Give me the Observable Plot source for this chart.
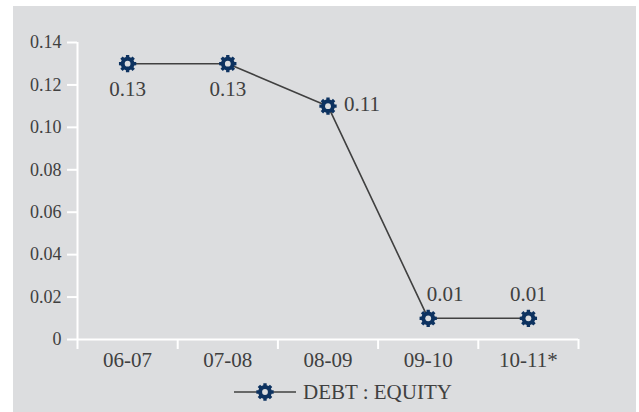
<!DOCTYPE html>
<html>
<head>
<meta charset="utf-8">
<script src="https://cdn.jsdelivr.net/npm/d3@7"></script>
<script src="https://cdn.jsdelivr.net/npm/@observablehq/plot@0.6"></script>
<style>
  html, body { margin: 0; padding: 0; background: #ffffff; }
  #panel { position: absolute; left: 13px; top: 6px; width: 623px; height: 406px; background: #dcdddf; }
  #chart { position: absolute; left: 0; top: 0; width: 639px; }
  #chart svg { display: block; }
  #chart svg text { font-family: "Liberation Serif", serif; }
  #legend { position: relative; height: 40px; font-family: "Liberation Serif", serif; font-size: 21px; color: #404040; }
  #legend .item { position: absolute; left: 234px; top: 0; height: 40px; display: flex; align-items: center; }
  #legend .item span { margin-left: 7px; }
</style>
</head>
<body>
<div id="panel"></div>
<div id="chart"></div>
<script>
const categories = ["06-07", "07-08", "08-09", "09-10", "10-11*"];
const values = [0.13, 0.13, 0.11, 0.01, 0.01];
const yTicks = [0, 0.02, 0.04, 0.06, 0.08, 0.10, 0.12, 0.14];
const seriesName = "DEBT : EQUITY";

const navy = "#0d3260";
const ink = "#404040";
const panel = "#dcdddf";
const serif = "Liberation Serif, serif";

const data = categories.map((c, i) => ({i, c, v: values[i]}));
const idx = categories.map((c, i) => i);
const bounds = [...idx.map(i => i - 0.5), categories.length - 0.5];

function gearPath(context, R) {
  const n = 8, step = 2 * Math.PI / n;
  const rr = R * 0.78, t = step * 0.24, t2 = step * 0.32;
  for (let k = 0; k < n; k++) {
    const a = k * step - Math.PI / 2;
    const p = [
      [rr, a - t2], [R, a - t], [R, a + t], [rr, a + t2]
    ];
    p.forEach(([r, ang], j) => {
      const x = r * Math.cos(ang), y = r * Math.sin(ang);
      if (k === 0 && j === 0) context.moveTo(x, y); else context.lineTo(x, y);
    });
  }
  context.closePath();
}
const gear = {draw(context, size) { gearPath(context, Math.sqrt(size / Math.PI)); }};

const chart = Plot.plot({
  width: 639,
  height: 372,
  marginLeft: 77,
  marginRight: 61,
  marginTop: 42,
  marginBottom: 33,
  style: {background: "transparent", fontFamily: serif, color: ink, fontSize: "18px"},
  x: {type: "linear", domain: [-0.5, categories.length - 0.5]},
  y: {domain: [0, 0.14]},
  marks: [
    Plot.axisY({ticks: yTicks, tickFormat: d => d === 0 ? "0" : d.toFixed(2), tickSize: 10, tickPadding: 6,
      stroke: "white", strokeWidth: 2, strokeOpacity: 1, fill: ink, fontSize: 18, fontFamily: serif, label: null}),
    Plot.axisX({ticks: bounds, tickFormat: () => "", tickSize: 10, stroke: "white", strokeWidth: 2, strokeOpacity: 1, label: null}),
    Plot.axisX({ticks: idx, tickFormat: i => categories[i], tickSize: 0, tickPadding: 13, fill: ink, fontSize: 21, fontFamily: serif, label: null}),
    Plot.ruleY([0], {x1: bounds[0], x2: bounds[bounds.length - 1], stroke: "white", strokeWidth: 2}),
    Plot.ruleX([bounds[0]], {y1: 0, y2: 0.14, stroke: "white", strokeWidth: 2}),
    Plot.line(data, {x: "i", y: "v", stroke: ink, strokeWidth: 1.6}),
    Plot.dot(data, {x: "i", y: "v", r: 8.8, symbol: gear, fill: navy, stroke: "none"}),
    Plot.dot(data, {x: "i", y: "v", r: 2.9, fill: panel, stroke: "none"}),
    Plot.text(data.filter(d => d.i < 2), {x: "i", y: "v", text: d => d.v.toFixed(2), dy: 26, fill: ink, fontSize: 21, fontFamily: serif}),
    Plot.text(data.filter(d => d.i === 2), {x: "i", y: "v", text: d => d.v.toFixed(2), dx: 16, dy: -2, textAnchor: "start", fill: ink, fontSize: 21, fontFamily: serif}),
    Plot.text(data.filter(d => d.i === 3), {x: "i", y: "v", text: d => d.v.toFixed(2), dx: 17, dy: -24, fill: ink, fontSize: 21, fontFamily: serif}),
    Plot.text(data.filter(d => d.i > 3), {x: "i", y: "v", text: d => d.v.toFixed(2), dy: -24, fill: ink, fontSize: 21, fontFamily: serif})
  ]
});
document.getElementById("chart").appendChild(chart);

// legend below the chart
const legend = document.createElement("div");
legend.id = "legend";
const item = document.createElement("div");
item.className = "item";
const sw = d3.create("svg").attr("width", 62).attr("height", 20);
sw.append("line").attr("x1", 0).attr("x2", 62).attr("y1", 10).attr("y2", 10).attr("stroke", ink).attr("stroke-width", 1.6);
const p = d3.path();
gearPath(p, 8.8);
sw.append("path").attr("transform", "translate(31,10)").attr("d", p.toString()).attr("fill", navy);
sw.append("circle").attr("cx", 31).attr("cy", 10).attr("r", 2.9).attr("fill", panel);
item.appendChild(sw.node());
const label = document.createElement("span");
label.textContent = seriesName;
item.appendChild(label);
legend.appendChild(item);
document.getElementById("chart").appendChild(legend);
</script>
</body>
</html>
